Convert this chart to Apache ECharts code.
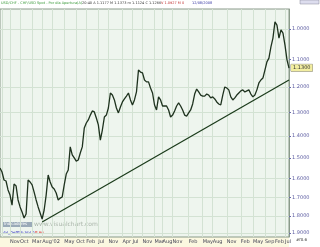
<!DOCTYPE html>
<html><head><meta charset="utf-8">
<script src="https://cdn.jsdelivr.net/npm/echarts@6/dist/echarts.min.js"></script>
<style>html,body{margin:0;padding:0;background:#fff;}#c{width:320px;height:247px;}</style>
</head><body><div id="c"></div>
<script>
// USD/CHF daily closes (sampled), plotted on an inverted log scale
const prices = [
1.548,1.568,1.608,1.613,1.659,1.686,1.740,1.628,1.638,1.712,
1.750,1.778,1.812,1.789,1.608,1.618,1.633,1.670,1.712,1.750,
1.784,1.818,1.767,1.686,1.583,1.618,1.644,1.654,1.675,1.712,
1.702,1.696,1.633,1.578,1.558,1.449,1.486,1.500,1.515,1.510,
1.477,1.449,1.365,1.344,1.331,1.311,1.294,1.298,1.323,1.352,
1.418,1.374,1.319,1.311,1.282,1.223,1.231,1.250,1.282,1.302,
1.278,1.258,1.246,1.235,1.223,1.250,1.270,1.250,1.219,1.138,
1.145,1.148,1.174,1.181,1.181,1.204,1.223,1.270,1.290,1.238,
1.250,1.274,1.274,1.274,1.290,1.319,1.311,1.294,1.274,1.262,
1.274,1.290,1.311,1.315,1.302,1.290,1.266,1.227,1.208,1.219,
1.231,1.235,1.235,1.227,1.231,1.242,1.238,1.246,1.258,1.266,
1.270,1.231,1.200,1.204,1.211,1.238,1.250,1.242,1.231,1.223,
1.215,1.211,1.219,1.215,1.211,1.227,1.238,1.231,1.211,1.185,
1.174,1.167,1.138,1.109,1.096,1.058,1.029,0.978,0.988,1.029,
1.003,1.013,1.052,1.102,1.131
];
const trendIdx = [21, 144];
const trendVal = [1.835, 1.174];
const yTicks = [1.0,1.1,1.2,1.3,1.4,1.5,1.6,1.7,1.8,1.9];
const xTickIdx = [1,5,10,16,21,26,32,38,43,49,54,61,66,71,77,81,86,94,101,106,113,120,126,132,137,142];
const xTickTxt = ['Sep','Nov','Oct','Mar','Aug',"'02",'May','Oct','Feb','Jul','Nov','Apr','Jul','Nov','Mar','Aug','Nov','Feb','May','Aug','Nov','Feb','May','Sep','Feb','Jul'];

const cats = prices.map((_, i) => String(i));
const trend = prices.map(() => null);
trendIdx.forEach((ix, k) => { trend[ix] = trendVal[k]; });
const tickMap = {};
xTickIdx.forEach((ix, k) => { tickMap[ix] = xTickTxt[k]; });
const isTick = (i) => tickMap[i] !== undefined;

const chart = echarts.init(document.getElementById('c'), null, {renderer: 'canvas'});
const F = 'DejaVu Sans';
chart.setOption({
  animation: false,
  backgroundColor: '#ffffff',
  grid: {left: 0, right: 31, top: 9, bottom: 10, show: true, backgroundColor: '#eef5ee', borderColor: '#8a9a8a', borderWidth: 1},
  xAxis: {
    type: 'category', data: cats, boundaryGap: false,
    axisLine: {show: false}, axisTick: {show: false},
    axisLabel: {interval: (i) => isTick(i), formatter: (v, i) => tickMap[i] || '', fontSize: 5, color: '#445', fontFamily: F, margin: 2, align: 'left', hideOverlap: false},
    splitLine: {show: true, interval: (i) => isTick(i), lineStyle: {color: '#d3e2d3', width: 1}}
  },
  yAxis: {
    type: 'log', inverse: true, position: 'right', min: 0.9391, max: 1.9235,
    axisLine: {show: true, lineStyle: {color: '#8a9a8a'}},
    axisTick: {show: true, customValues: yTicks, length: 2, inside: false, lineStyle: {color: '#6a6aa8'}},
    axisLabel: {customValues: yTicks, formatter: (v) => Number(v).toFixed(4), fontSize: 5, color: '#5a5aa0', fontFamily: F, margin: 3},
    splitLine: {show: true, lineStyle: {color: '#d3e2d3', width: 1}}
  },
  series: [
    {type: 'line', data: prices, symbol: 'none', lineStyle: {color: '#1e321e', width: 1.3},
     markLine: {silent: true, symbol: 'none', data: [{yAxis: prices[prices.length-1]}], lineStyle: {color: 'rgba(0,0,0,0)', width: 0},
       label: {show: true, position: 'end', formatter: (p) => Number(p.value).toFixed(4), fontSize: 5, color: '#333', backgroundColor: '#f2eda0', borderColor: '#888', borderWidth: 0.5, padding: [1,2], distance: 2, fontFamily: F}}},
    {type: 'line', data: trend, connectNulls: true, symbol: 'none', lineStyle: {color: '#1a3a1a', width: 1.2}}
  ],
  graphic: [
    {type: 'rect', shape: {x: 0, y: 237, width: 289, height: 10}, style: {fill: '#fbf8e0'}, z: -1},
    {type: 'text', left: 1, top: 1, style: {text: 'USD/CHF - CHF/USD Spot - Por día Apertura(A)', fontSize: 3.5, fill: '#3a9a3a', fontFamily: F}},
    {type: 'text', left: 82, top: 1, style: {text: '20:40 A 1.1177 M 1.1373 m 1.1124 C 1.1266', fontSize: 3.5, fill: '#333', fontFamily: F}},
    {type: 'text', left: 161, top: 1, style: {text: 'V 1.0927 M 0', fontSize: 3.5, fill: '#c03030', fontFamily: F}},
    {type: 'text', left: 192, top: 1, style: {text: '12/08/2008', fontSize: 3.5, fill: '#3030a0', fontFamily: F}},
    {type: 'rect', shape: {x: 2, y: 222, width: 30, height: 5}, style: {fill: '#9aaab8'}},
    {type: 'text', left: 4, top: 222, style: {text: 'Indicadores', fontSize: 4, fill: '#fff', fontFamily: F}},
    {type: 'text', left: 34, top: 221, style: {text: 'www.visualchart.com', fontSize: 6, fill: '#aab5aa', fontFamily: F}},
    {type: 'text', left: 2, top: 231, style: {text: 'Vol_DefEth Vol 0', fontSize: 4, fill: '#3030c0', fontFamily: F}},
    {type: 'text', left: 35, top: 231, style: {text: 'P 66', fontSize: 4, fill: '#e03030', fontFamily: F}},
    {type: 'rect', shape: {x: 300, y: 0, width: 19, height: 4}, style: {fill: '#dde', stroke: '#889', lineWidth: 0.5}},
    {type: 'text', left: 296, top: 238, style: {text: '#f0.6', fontSize: 4, fill: '#333', fontFamily: F}}
  ]
});
</script></body></html>
